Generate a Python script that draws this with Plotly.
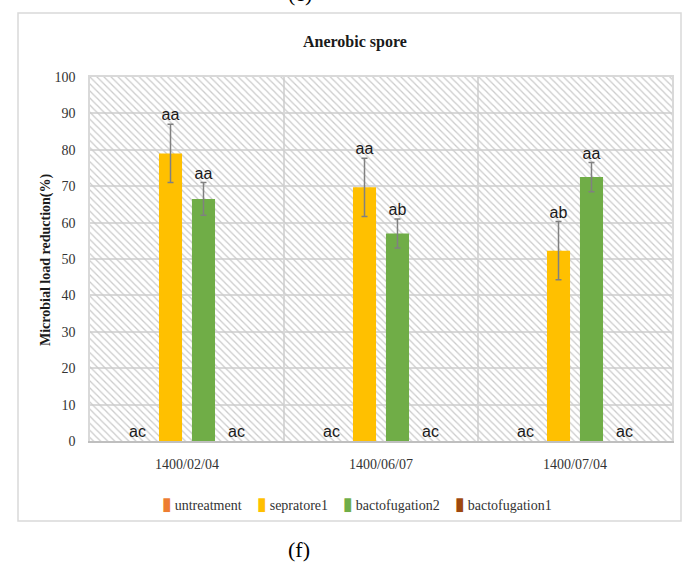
import numpy as np
import plotly.graph_objects as go

# ---- data ----
dates = ["1400/02/04", "1400/06/07", "1400/07/04"]
series = ["untreatment", "sepratore1", "bactofugation2", "bactofugation1"]
untreatment = [0, 0, 0]
sepratore1 = [79.0, 69.7, 52.3]
bactofugation2 = [66.5, 57.0, 72.5]
bactofugation1 = [0, 0, 0]
err_untreatment = [0, 0, 0]
err_sepratore1 = [8.0, 8.0, 8.0]
err_bactofugation2 = [4.5, 4.0, 4.0]
err_bactofugation1 = [0, 0, 0]
letters_untreatment = ["ac", "ac", "ac"]
letters_sepratore1 = ["aa", "aa", "ab"]
letters_bactofugation2 = ["aa", "ab", "aa"]
letters_bactofugation1 = ["ac", "ac", "ac"]
y_ticks = [0, 10, 20, 30, 40, 50, 60, 70, 80, 90, 100]

values = [untreatment, sepratore1, bactofugation2, bactofugation1]
errors = [err_untreatment, err_sepratore1, err_bactofugation2, err_bactofugation1]
letters = [letters_untreatment, letters_sepratore1, letters_bactofugation2, letters_bactofugation1]
colors = ["#ED7D31", "#FFC000", "#70AD47", "#9E480E"]

SERIF = "Liberation Serif"
SANS = "Liberation Sans"

# ---- grouped bars on a numeric axis ----
bargap = 0.32
n = len(series)
slot = (1 - bargap) / n
bar_w = slot * 0.70
base_x = np.arange(len(dates))

fig = go.Figure()

# hatched plot-area background (base axes)
fig.add_trace(go.Scatter(
    x=[-0.5, 2.5, 2.5, -0.5, -0.5], y=[0, 0, 100, 100, 0],
    mode="none", fill="toself", fillcolor="rgba(0,0,0,0)",
    fillpattern=dict(shape="\\", size=5, solidity=0.25,
                     fgcolor="#cbcbcb", bgcolor="rgba(255,255,255,0)",
                     fillmode="replace"),
    showlegend=False, hoverinfo="skip", xaxis="x", yaxis="y"))

# bars with error bars (overlay axes)
for i, (name, vals, errs, col) in enumerate(zip(series, values, errors, colors)):
    xs = base_x + (i - (n - 1) / 2) * slot
    has_err = any(e > 0 for e in errs)
    fig.add_trace(go.Bar(
        x=xs, y=vals, width=bar_w, name=name, marker=dict(color=col, line=dict(width=0)),
        error_y=dict(type="data", array=errs, visible=has_err,
                     color="#808080", thickness=1.5, width=3),
        showlegend=False, xaxis="x2", yaxis="y2"))

# significance letters above each bar / error bar
for i, (vals, errs, labs) in enumerate(zip(values, errors, letters)):
    xs = base_x + (i - (n - 1) / 2) * slot
    ys = [v + e for v, e in zip(vals, errs)]
    fig.add_trace(go.Scatter(
        x=xs, y=ys, mode="text", text=labs, textposition="top center",
        textfont=dict(family=SANS, size=16, color="#1a1a1a"),
        showlegend=False, hoverinfo="skip", xaxis="x2", yaxis="y2", cliponaxis=False))

grid = "#d9d9d9"
fig.update_layout(
    width=689, height=565,
    margin=dict(l=90, r=17, t=77, b=124),
    paper_bgcolor="white", plot_bgcolor="white",
    showlegend=False,
    xaxis=dict(range=[-0.5, 2.5], tickvals=[0.5, 1.5], showticklabels=False,
               showgrid=True, gridcolor=grid, gridwidth=1.5, zeroline=False,
               showline=True, linecolor=grid, linewidth=1.5, mirror=True, ticks=""),
    yaxis=dict(range=[0, 100], tickvals=y_ticks, showgrid=True, gridcolor=grid, gridwidth=1.5,
               zeroline=False, showline=True, linecolor=grid, linewidth=1.5, mirror=True,
               ticks="", ticklabelstandoff=10,
               tickfont=dict(family=SERIF, size=14, color="#333333")),
    xaxis2=dict(range=[-0.5, 2.5], overlaying="x", anchor="y2", tickvals=list(base_x),
                ticktext=dates, showgrid=False, zeroline=False, showline=True,
                linecolor="#bfbfbf", linewidth=1.5, ticks="", ticklabelstandoff=9,
                tickfont=dict(family=SERIF, size=14, color="#333333")),
    yaxis2=dict(range=[0, 100], overlaying="y", anchor="x2", showgrid=False,
                zeroline=False, showticklabels=False, showline=False),
)

# legend row: coloured swatch + series name, left edges in pixels
PX_W, PX_H, L, B = 582, 364, 90, 441
legend_left = [160, 255, 341, 453]
legend_y = 503
for name, col, lx in zip(series, colors, legend_left):
    fig.add_annotation(
        text=(f"<span style='color:{col};font-family:DejaVu Sans;font-size:18px'>▮</span>"
              f"\u2009{name}"),
        x=(lx - L) / PX_W, y=(B - legend_y) / PX_H, xref="paper", yref="paper",
        xanchor="left", yanchor="middle", showarrow=False,
        font=dict(family=SERIF, size=14, color="#333333"))

# chart title, axis title, outer frame and panel labels
fig.add_annotation(text="<b>Anerobic spore</b>", x=(355 - L) / PX_W, y=(B - 42) / PX_H,
                   xref="paper", yref="paper", xanchor="center", yanchor="middle",
                   showarrow=False, font=dict(family=SERIF, size=16, color="#1a1a1a"))
fig.add_annotation(text="<b>Microbial load reduction(%)</b>", x=(46 - L) / PX_W,
                   y=(B - 260) / PX_H, xref="paper", yref="paper", textangle=-90,
                   xanchor="center", yanchor="middle", showarrow=False,
                   font=dict(family=SERIF, size=14, color="#1a1a1a"))
fig.add_annotation(text="(f)", x=(299 - L) / PX_W, y=(B - 549) / PX_H, xref="paper",
                   yref="paper", xanchor="center", yanchor="middle", showarrow=False,
                   font=dict(family=SERIF, size=22, color="black"))
fig.add_annotation(text="(e)", x=(300 - L) / PX_W, y=(B + 6) / PX_H, xref="paper",
                   yref="paper", xanchor="center", yanchor="middle", showarrow=False,
                   font=dict(family=SERIF, size=22, color="black"))
fig.add_shape(type="rect", xref="paper", yref="paper",
              x0=(18 - L) / PX_W, x1=(681 - L) / PX_W, y0=(B - 521) / PX_H, y1=(B - 13) / PX_H,
              line=dict(color="#d9d9d9", width=1.5), fillcolor="rgba(0,0,0,0)", layer="below")

fig.write_html("out.html")
